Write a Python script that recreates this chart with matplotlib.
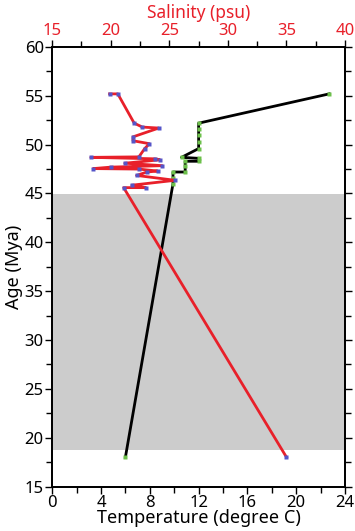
import numpy as np
import matplotlib
matplotlib.use("Agg")
import matplotlib.pyplot as plt
from matplotlib.ticker import MultipleLocator

plt.rcParams['font.family'] = ['Noto Sans', 'DejaVu Sans']

# temperature record (black line, green points)
temp_age = [55.2, 52.2, 51.6, 51.0, 50.3, 49.6, 48.7, 48.6, 48.3, 48.3, 47.8, 47.2, 47.2, 46.6, 46.0, 18.0]
temp_val = [22.7, 12.0, 12.0, 12.0, 12.0, 12.0, 10.6, 12.0, 12.0, 10.9, 10.9, 10.9, 9.9, 9.9, 9.9, 6.0]

# salinity record (red line, blue points)
sal_age = [55.2, 55.2, 52.2, 51.8, 51.7, 50.8, 50.4, 50.1, 49.6, 48.75, 48.7, 48.55, 48.45,
           48.1, 47.85, 47.7, 47.55, 47.5, 47.3, 47.2, 46.85, 46.35, 45.85, 45.6, 45.6, 18.0]
sal_val = [19.9, 20.6, 22.0, 22.7, 24.1, 21.9, 21.9, 23.3, 22.9, 22.4, 18.3, 23.8, 24.2,
           21.2, 24.4, 20.0, 18.5, 22.4, 24.0, 23.1, 22.2, 25.5, 21.8, 23.0, 21.1, 35.0]

# grey interval
band = (18.7, 44.9)

fig = plt.figure(figsize=(3.55, 5.31), dpi=100)
ax = fig.add_axes([0.147, 0.0838, 0.825, 0.8277])
ax.axhspan(band[0], band[1], color='#cccccc', lw=0, zorder=0)

ax.plot(temp_val, temp_age, '-', color='black', lw=2.0, zorder=3)
ax.plot(temp_val, temp_age, 's', color='#6cc04a', ms=2.2, mec='none', zorder=4)
ax.set_xlim(0, 24)
ax.set_ylim(15, 60)
ax.xaxis.set_major_locator(MultipleLocator(4))
ax.xaxis.set_minor_locator(MultipleLocator(2))
ax.yaxis.set_major_locator(MultipleLocator(5))
ax.yaxis.set_minor_locator(MultipleLocator(2.5))
ax.tick_params(which='both', direction='out', right=True, width=1, labelsize=12, pad=1)
ax.tick_params(which='major', length=5)
ax.tick_params(which='minor', length=4)
ax.set_xlabel('Temperature (degree C)', fontsize=13, labelpad=-1)
ax.set_ylabel('Age (Mya)', fontsize=13, labelpad=1)
for s in ax.spines.values():
    s.set_linewidth(1.3)

ax2 = ax.twiny()
ax2.plot(sal_val, sal_age, '-', color='#e8202a', lw=2.0, zorder=3)
ax2.plot(sal_val, sal_age, 's', color='#5555c8', ms=2.2, mec='none', zorder=4)
ax2.set_xlim(15, 40)
ax2.xaxis.set_major_locator(MultipleLocator(5))
ax2.xaxis.set_minor_locator(MultipleLocator(2.5))
ax2.tick_params(which='both', direction='out', width=1, labelsize=12, pad=1, labelcolor='#e8202a')
ax2.tick_params(which='major', length=5)
ax2.tick_params(which='minor', length=4)
ax2.set_xlabel('Salinity (psu)', fontsize=12.5, color='#e8202a', labelpad=3)
for s in ax2.spines.values():
    s.set_linewidth(1.3)

fig.savefig('out.png', dpi=100)
